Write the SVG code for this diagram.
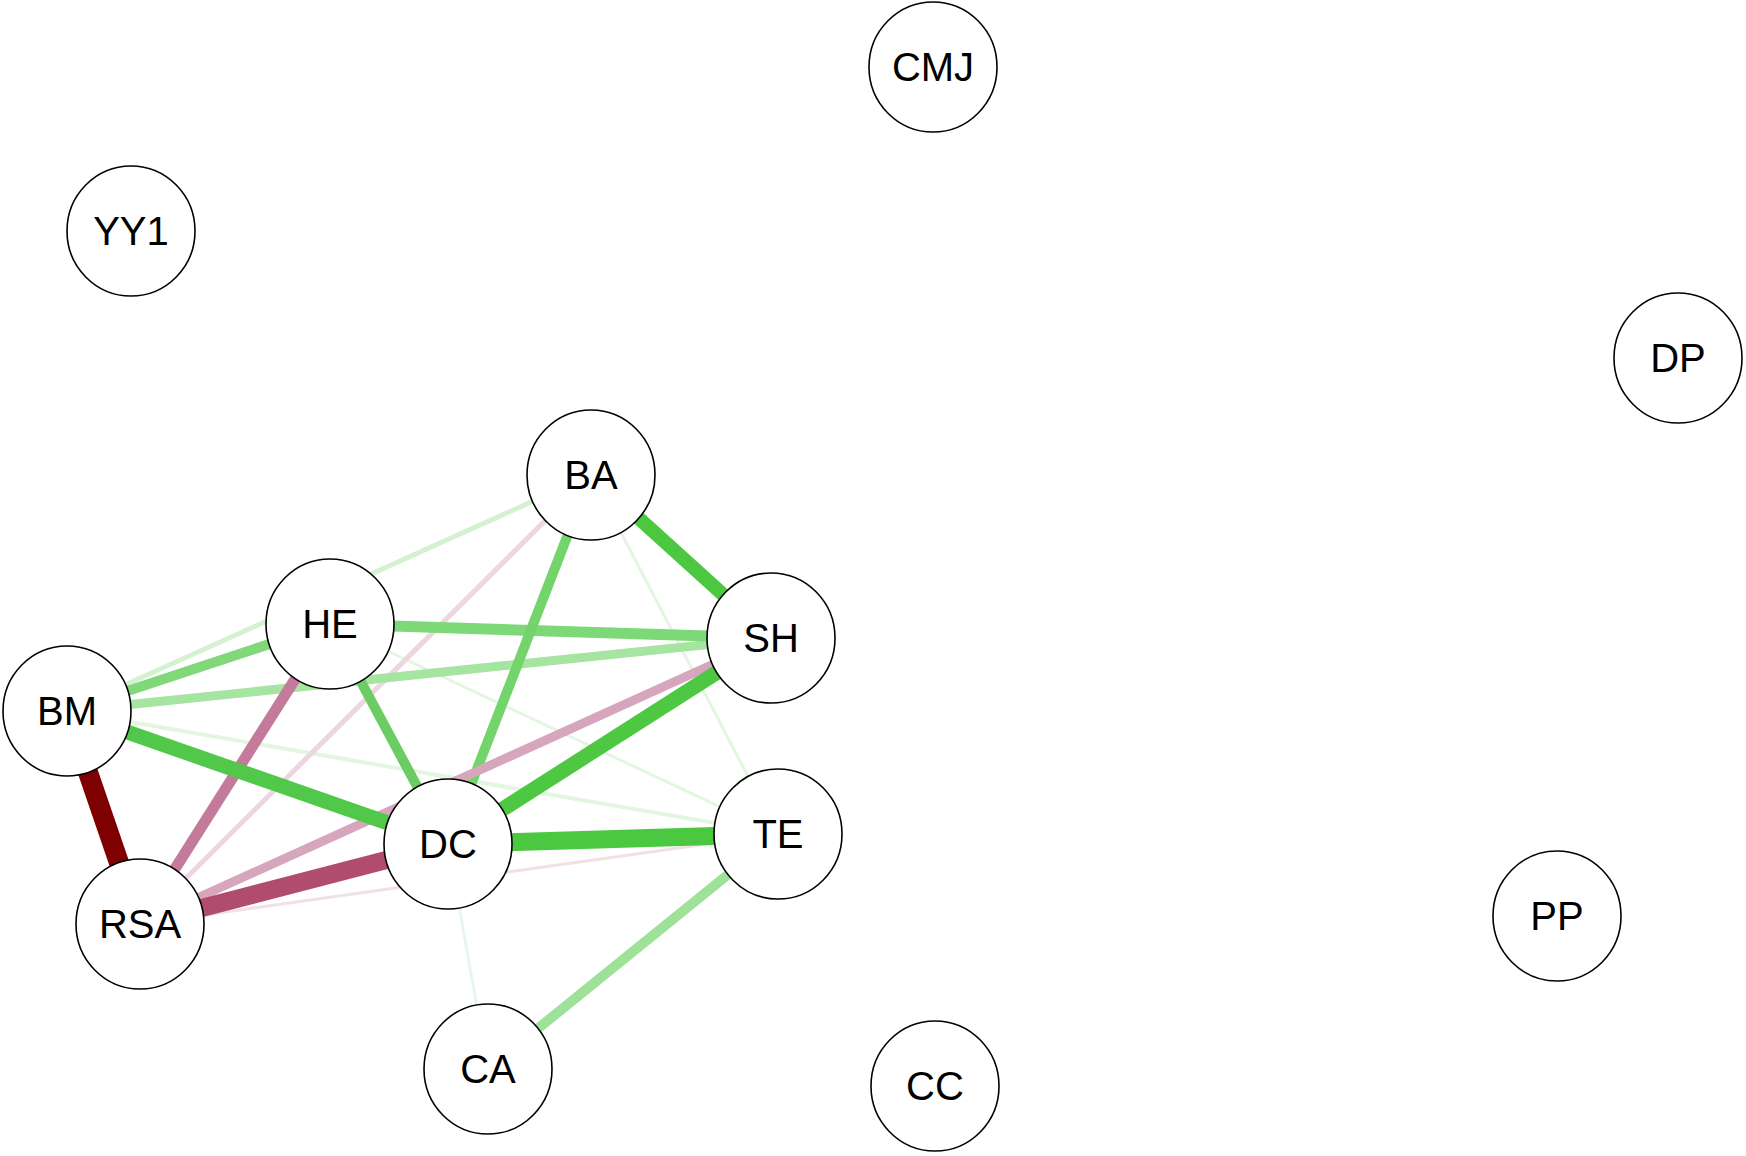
<svg xmlns="http://www.w3.org/2000/svg" width="1746" height="1156" viewBox="0 0 1746 1156">
<style>
.n ellipse{fill:#fff;stroke:#000;stroke-width:1.6}
.n text{font-family:"Liberation Sans",Arial,sans-serif;font-size:40px;text-anchor:middle;dominant-baseline:central;fill:#000}
#edges line{stroke-linecap:butt}
</style>
<rect width="1746" height="1156" fill="#fff"/>
<g id="edges">
<line x1="67" y1="711" x2="591" y2="475" stroke="#d4f2d2" stroke-width="5"/>
<line x1="67" y1="711" x2="778" y2="834" stroke="#e2f6e0" stroke-width="4"/>
<line x1="330" y1="624" x2="778" y2="834" stroke="#e2f6e0" stroke-width="3"/>
<line x1="591" y1="475" x2="778" y2="834" stroke="#e2f6e0" stroke-width="3"/>
<line x1="448" y1="844" x2="488" y2="1069" stroke="#e8f6ec" stroke-width="3"/>
<line x1="140" y1="924" x2="778" y2="834" stroke="#f0e0e8" stroke-width="3"/>
<line x1="140" y1="924" x2="591" y2="475" stroke="#ecd6e0" stroke-width="5"/>
<line x1="67" y1="711" x2="771" y2="638" stroke="#a6e4a2" stroke-width="9"/>
<line x1="67" y1="711" x2="330" y2="624" stroke="#80d878" stroke-width="10"/>
<line x1="330" y1="624" x2="771" y2="638" stroke="#7dd878" stroke-width="11"/>
<line x1="591" y1="475" x2="448" y2="844" stroke="#72d46a" stroke-width="10"/>
<line x1="330" y1="624" x2="448" y2="844" stroke="#6ccc64" stroke-width="10"/>
<line x1="778" y1="834" x2="488" y2="1069" stroke="#9ee29a" stroke-width="10"/>
<line x1="140" y1="924" x2="771" y2="638" stroke="#d6a6bd" stroke-width="9"/>
<line x1="140" y1="924" x2="330" y2="624" stroke="#c47a9a" stroke-width="11"/>
<line x1="67" y1="711" x2="448" y2="844" stroke="#52c84a" stroke-width="15"/>
<line x1="448" y1="844" x2="771" y2="638" stroke="#4ec842" stroke-width="15"/>
<line x1="448" y1="844" x2="778" y2="834" stroke="#4cc840" stroke-width="18"/>
<line x1="591" y1="475" x2="771" y2="638" stroke="#4cc840" stroke-width="14"/>
<line x1="140" y1="924" x2="448" y2="844" stroke="#b04c6e" stroke-width="18"/>
<line x1="67" y1="711" x2="140" y2="924" stroke="#7f0000" stroke-width="20"/>
</g>
<g id="CMJ" class="n"><ellipse cx="933" cy="67" rx="64" ry="65"/><text x="933" y="67">CMJ</text></g>
<g id="YY1" class="n"><ellipse cx="131" cy="231" rx="64" ry="65"/><text x="131" y="231">YY1</text></g>
<g id="DP" class="n"><ellipse cx="1678" cy="358" rx="64" ry="65"/><text x="1678" y="358">DP</text></g>
<g id="BA" class="n"><ellipse cx="591" cy="475" rx="64" ry="65"/><text x="591" y="475">BA</text></g>
<g id="HE" class="n"><ellipse cx="330" cy="624" rx="64" ry="65"/><text x="330" y="624">HE</text></g>
<g id="SH" class="n"><ellipse cx="771" cy="638" rx="64" ry="65"/><text x="771" y="638">SH</text></g>
<g id="BM" class="n"><ellipse cx="67" cy="711" rx="64" ry="65"/><text x="67" y="711">BM</text></g>
<g id="DC" class="n"><ellipse cx="448" cy="844" rx="64" ry="65"/><text x="448" y="844">DC</text></g>
<g id="TE" class="n"><ellipse cx="778" cy="834" rx="64" ry="65"/><text x="778" y="834">TE</text></g>
<g id="RSA" class="n"><ellipse cx="140" cy="924" rx="64" ry="65"/><text x="140" y="924">RSA</text></g>
<g id="PP" class="n"><ellipse cx="1557" cy="916" rx="64" ry="65"/><text x="1557" y="916">PP</text></g>
<g id="CA" class="n"><ellipse cx="488" cy="1069" rx="64" ry="65"/><text x="488" y="1069">CA</text></g>
<g id="CC" class="n"><ellipse cx="935" cy="1086" rx="64" ry="65"/><text x="935" y="1086">CC</text></g>
</svg>
